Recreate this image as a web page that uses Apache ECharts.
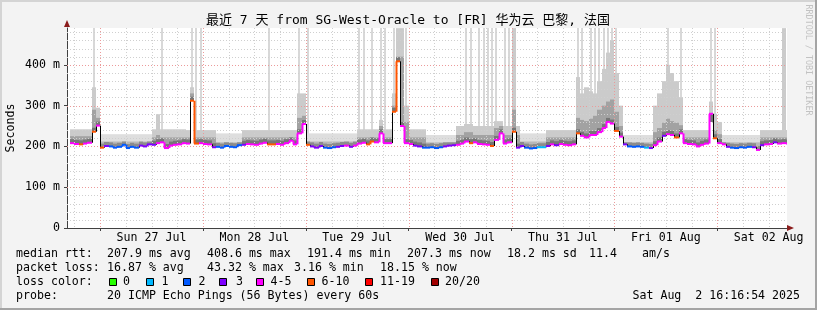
<!DOCTYPE html>
<html><head><meta charset="utf-8">
<script src="https://cdn.jsdelivr.net/npm/echarts@6/dist/echarts.min.js"></script>
<style>
html,body{margin:0;padding:0;background:#f3f3f3;overflow:hidden;}
#c{position:absolute;left:0;top:0;width:817px;height:310px;}
.b{position:absolute;pointer-events:none;}
</style></head><body>
<div id="c"></div>
<div class="b" style="left:0;top:0;width:817px;height:2px;background:#d4d4d4"></div>
<div class="b" style="left:0;top:0;width:2px;height:310px;background:#d4d4d4"></div>
<div class="b" style="left:815px;top:0;width:2px;height:310px;background:#a4a4a4"></div>
<div class="b" style="left:0;top:308px;width:817px;height:2px;background:#a4a4a4"></div>
<script>
// ---------- data (hourly bins, first bin starts 2025-07-26 17:00 UTC) ----------
const titleText = '最近 7 天 from SG-West-Oracle to [FR] 华为云 巴黎, 法国';
const dayLabels = ['Sun 27 Jul','Mon 28 Jul','Tue 29 Jul','Wed 30 Jul','Thu 31 Jul','Fri 01 Aug','Sat 02 Aug'];
const yTickValues = [0,100,200,300,400];

const medianRtt = [
208,206,205,207,209,236,251,197,201,200,
197,199,204,196,199,197,202,200,205,204,
208,210,196,202,204,205,208,207,312,207,
208,206,205,198,199,197,201,199,198,203,
204,206,205,204,207,209,205,205,206,204,
208,214,205,232,255,204,200,197,201,197,
196,198,199,201,202,199,202,207,209,205,
212,210,232,208,208,285,408.6,250,208,206,
202,200,197,197,198,196,198,200,202,203,
204,207,212,208,210,206,205,204,201,216,
232,207,210,236,197,201,197,195,196,198,
198,201,205,203,206,204,203,205,232,226,
222,228,228,235,245,260,256,238,224,205,
200,199,200,199,197,196,203,212,226,230,
228,222,232,208,206,205,200,204,207,280,
220,208,205,199,197,196,198,197,199,198,
191.4,203,205,206,210,207,208,207.3];

// loss colour class per bin: 0:0 1:1 2:2 3:3 4:4-5 5:6-10 6:11-19 7:20/20
const lossClass = [
4,4,5,4,4,5,4,5,3,2,
2,2,2,2,2,2,3,3,3,3,
4,4,4,4,4,4,4,4,5,5,
4,4,4,3,2,2,2,2,2,2,
3,4,4,4,4,4,5,5,4,4,
4,4,4,4,4,5,3,3,3,2,
2,2,3,3,4,3,4,4,4,5,
5,4,4,4,4,5,5,4,4,4,
3,3,2,2,2,2,2,3,3,3,
4,4,4,5,4,4,4,4,5,4,
4,4,4,5,3,3,2,2,2,1,
1,3,4,3,4,4,4,4,5,4,
4,4,4,4,4,4,4,5,4,3,
2,2,2,2,1,3,4,4,3,4,
4,5,4,4,4,4,4,4,4,4,
5,4,4,3,2,2,2,2,2,3,
4,3,4,4,3,4,4,4];

const smokeMid = [
225,225,225,225,225,290,270,212,212,212,
212,212,212,212,212,212,212,212,212,222,
228,222,222,222,222,222,222,222,330,222,
222,222,222,222,210,210,210,210,210,210,
222,222,222,222,222,222,222,222,222,222,
222,222,222,270,275,212,212,212,212,212,
212,212,212,212,212,212,212,222,222,222,
222,222,250,222,222,300,420,420,260,222,
222,222,222,210,210,210,210,210,210,210,
228,228,235,235,228,228,228,228,228,245,
250,228,228,290,228,212,212,212,212,212,
212,222,222,222,222,222,222,222,270,265,
262,268,275,290,300,310,315,285,250,210,
210,210,210,210,210,210,235,245,258,268,
262,258,252,222,222,222,222,222,222,260,
240,230,210,210,210,210,210,210,210,210,
210,222,222,222,222,222,222,222];

const smokeHigh = [
242,242,242,242,242,345,295,230,230,230,
230,230,230,230,230,230,230,230,230,242,
279,242,242,242,242,242,242,240,345,240,
240,240,240,240,232,232,232,232,232,232,
240,240,240,240,240,240,240,240,240,240,
240,240,240,330,330,232,232,232,232,232,
232,232,232,232,232,232,232,242,242,242,
242,242,265,242,242,330,490,490,300,242,
242,242,242,228,228,228,228,228,228,228,
250,250,255,255,250,250,250,250,250,262,
262,250,250,490,250,232,232,232,232,232,
232,240,240,240,240,240,240,240,370,330,
345,335,330,360,390,430,460,380,300,228,
228,228,228,228,228,228,300,330,360,400,
380,360,320,240,240,240,240,240,240,310,
280,260,228,228,228,228,228,228,228,228,
228,240,240,240,240,240,490,240];

// bins with a faint full-height band (lost / very slow pings)
const tallBarBins = [5,21,28,29,30,46,53,55,67,68,70,72,73,75,78,92,93,95,96,97,98,99,101,102,
  118,119,121,122,123,124,125,126,127,139,142,149,150];

const statLines = [
  [[16,'median rtt:'],[107,'207.9 ms avg'],[207,'408.6 ms max'],[307,'191.4 ms min'],[407,'207.3 ms now'],[507,'18.2 ms sd'],[589,'11.4'],[642,'am/s']],
  [[16,'packet loss:'],[107,'16.87 % avg'],[207,'43.32 % max'],[294,'3.16 % min'],[380,'18.15 % now']],
  [[16,'loss color:']],
  [[16,'probe:'],[107,'20 ICMP Echo Pings (56 Bytes) every 60s']]
];
const lossColors = ['#26ff00','#00b8ff','#0059ff','#7e00ff','#ff00ff','#ff5500','#ff0000','#a10000'];
const lossLabels = ['0','1','2','3','4-5','6-10','11-19','20/20'];
const stampText = 'Sat Aug  2 16:16:54 2025';

// ---------- time frame ----------
const HOUR = 3600000, DAY = 86400000;
const T_START = Date.UTC(2025,6,26,16,16,54);
const T_END = Date.UTC(2025,7,2,16,16,54);
const FIRST_BIN = Date.UTC(2025,6,26,17,0,0);
const Y_MAX = 490.32;
const dayNoons = dayLabels.map((_,k)=>Date.UTC(2025,6,27,12)+k*DAY);
const midnights = dayLabels.map((_,k)=>Date.UTC(2025,6,27,0)+k*DAY);
const sixHours = []; for (let t=Date.UTC(2025,6,26,18); t<T_END; t+=6*HOUR) sixHours.push(t);
const minorY = []; for (let v=20; v<Y_MAX; v+=20) minorY.push(v);

const FONT = "'DejaVu Sans Mono', 'Noto Sans CJK SC', monospace";
const FS = 11.6;

const smokeData = medianRtt.map((m,i)=>[FIRST_BIN+i*HOUR, FIRST_BIN+(i+1)*HOUR, m, smokeMid[i], smokeHigh[i], tallBarBins.indexOf(i)>=0?Y_MAX:0]);
const medData = medianRtt.map((m,i)=>[FIRST_BIN+i*HOUR, FIRST_BIN+(i+1)*HOUR, m, i>0?medianRtt[i-1]:m, lossClass[i], i>0?lossClass[i-1]:lossClass[i]]);

function renderSmoke(params, api){
  const t0=api.value(0), t1=api.value(1), m=api.value(2), mid=api.value(3), hi=api.value(4), tall=api.value(5);
  const x0=Math.round(api.coord([t0,m])[0]), x1=Math.round(api.coord([t1,m])[0]);
  const yM=api.coord([t0,m])[1];
  const w=x1-x0, ch=[];
  const calm = mid<=212;
  if (tall>0){ const yT=api.coord([t0,tall])[1]; ch.push({type:'rect',shape:{x:x0+1,y:yT,width:2,height:yM-yT},style:{fill:'#d8d8d8'}}); }
  const yH=api.coord([t0,hi])[1];
  ch.push({type:'rect',shape:{x:x0,y:yH,width:w,height:yM-yH},style:{fill:calm?'#dedede':'#cbcbcb'}});
  const yD=api.coord([t0,mid])[1];
  ch.push({type:'rect',shape:{x:x0,y:yD,width:w,height:yM-yD},style:{fill:calm?'#b8b8b8':'#a2a2a2'}});
  const yK=Math.max(yD, yM-4);
  ch.push({type:'rect',shape:{x:x0,y:yK,width:w,height:yM-yK},style:{fill:calm?'#8c8c8c':'#767676'}});
  return {type:'group',children:ch};
}
function renderMedian(params, api){
  const t0=api.value(0), t1=api.value(1), m=api.value(2), pm=api.value(3), lc=api.value(4), plc=api.value(5);
  const x0=Math.round(api.coord([t0,m])[0]), x1=Math.round(api.coord([t1,m])[0]);
  const y=api.coord([t0,m])[1], yp=api.coord([t0,pm])[1];
  const col=lossColors[lc], same=(lc===plc);
  const ch=[];
  if (Math.abs(y-yp)>0.5) ch.push({type:'line',shape:{x1:x0+0.5,y1:yp,x2:x0+0.5,y2:y},style:{stroke:same?col:'#000',lineWidth:same?2:1}});
  ch.push({type:'line',shape:{x1:x0,y1:y,x2:x1,y2:y},style:{stroke:col,lineWidth:2}});
  return {type:'group',children:ch};
}
function renderGrid(params, api){
  const cs=params.coordSys, ch=[];
  const L=cs.x, R=cs.x+cs.width, T=cs.y, B=cs.y+cs.height;
  minorY.forEach(v=>{
    const y=Math.round(api.coord([T_START,v])[1])+0.5;
    const major=(v%100===0);
    ch.push({type:'line',shape:{x1:L,y1:y,x2:R,y2:y},style:{stroke:major?'#ec9a9a':'#cfcfcf',lineWidth:1,lineDash:[1,2]}});
  });
  sixHours.forEach(t=>{
    const x=Math.round(api.coord([t,0])[0])+0.5;
    const major=midnights.indexOf(t)>=0;
    ch.push({type:'line',shape:{x1:x,y1:T,x2:x,y2:B},style:{stroke:major?'#ec9a9a':'#cfcfcf',lineWidth:1,lineDash:[1,2]}});
  });
  return {type:'group',children:ch};
}

const graphic = [];
graphic.push({type:'text',x:408,y:21,style:{text:titleText,font:'13px '+FONT,fill:'#000',align:'center',verticalAlign:'middle'}});
graphic.push({type:'text',x:808,y:60,rotation:-Math.PI/2,style:{text:'RRDTOOL / TOBI OETIKER',font:'8.4px '+FONT,fill:'#c2c2c2',align:'center',verticalAlign:'middle'}});
const lineY=[254,268,282,296];
statLines.forEach((items,r)=>items.forEach(([x,t])=>graphic.push({type:'text',x:x,y:lineY[r],style:{text:t,font:FS+'px '+FONT,fill:'#000',verticalAlign:'middle'}})));
const swatchX=[109,146,183,219,256,307,365,431], swatchLabelX=[123,161.5,198.5,236,270.5,321.5,380,445];
lossColors.forEach((c,k)=>{
  graphic.push({type:'rect',shape:{x:swatchX[k]+0.5,y:278.5,width:7,height:7},style:{fill:c,stroke:'#000',lineWidth:1}});
  graphic.push({type:'text',x:swatchLabelX[k],y:282,style:{text:lossLabels[k],font:FS+'px '+FONT,fill:'#000',verticalAlign:'middle'}});
});
graphic.push({type:'text',x:800,y:296,style:{text:stampText,font:FS+'px '+FONT,fill:'#000',align:'right',verticalAlign:'middle'}});
graphic.push({type:'polygon',shape:{points:[[67,20],[64,27],[70,27]]},style:{fill:'#8b1c1c'}});
graphic.push({type:'polygon',shape:{points:[[794,228],[787,225],[787,231]]},style:{fill:'#8b1c1c'}});

const chart = echarts.init(document.getElementById('c'), null, {renderer:'canvas'});
chart.setOption({
  animation:false,
  backgroundColor:'#f3f3f3',
  grid:{left:67,top:28,width:720,height:200,show:true,backgroundColor:'#ffffff',borderWidth:0,containLabel:false,outerBoundsMode:'none'},
  xAxis:{type:'value',min:T_START,max:T_END,
    axisLine:{show:true,lineStyle:{color:'#404040',width:1}},
    axisTick:{show:true,customValues:midnights,length:3,inside:false,lineStyle:{color:'#404040'}},
    axisLabel:{show:true,customValues:dayNoons,margin:4,color:'#000',fontFamily:FONT,fontSize:FS,
      formatter:v=>{const k=Math.round((v-dayNoons[0])/DAY);return dayLabels[k]||'';}},
    splitLine:{show:false}},
  yAxis:{type:'value',min:0,max:Y_MAX,
    name:'Seconds',nameLocation:'middle',nameGap:50,nameRotate:90,nameMoveOverlap:false,
    nameTextStyle:{fontFamily:FONT,fontSize:FS,color:'#000'},
    axisLine:{show:true,lineStyle:{color:'#404040',width:1}},
    axisTick:{show:true,customValues:yTickValues,length:3,lineStyle:{color:'#404040'}},
    axisLabel:{show:true,customValues:yTickValues,margin:7,color:'#000',fontFamily:FONT,fontSize:FS,
      formatter:v=>v===0?'0':(v+' m')},
    splitLine:{show:false}},
  graphic:graphic,
  series:[
    {type:'custom',name:'smoke',renderItem:renderSmoke,data:smokeData,encode:{x:[0,1],y:[2,3,4]},clip:true,z:1,silent:true},
    {type:'custom',name:'grid',renderItem:renderGrid,data:[[T_START,0]],encode:{x:0,y:1},clip:false,z:2,silent:true},
    {type:'custom',name:'median',renderItem:renderMedian,data:medData,encode:{x:[0,1],y:[2,3]},clip:true,z:3,silent:true}
  ]
});
</script>
</body></html>
